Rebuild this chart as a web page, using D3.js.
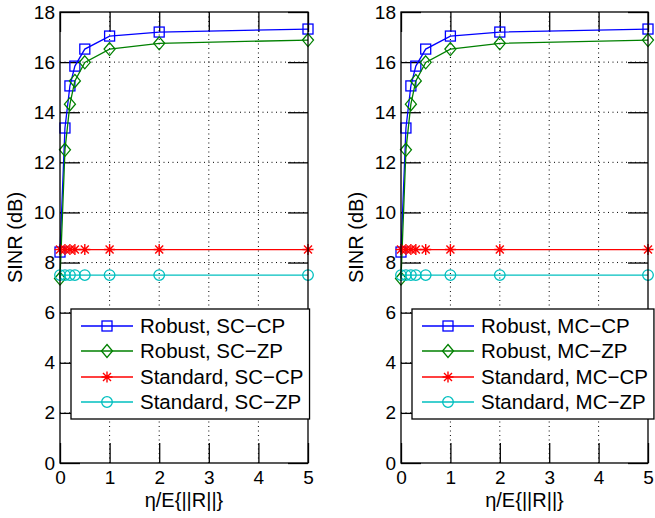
<!DOCTYPE html>
<html>
<head>
<meta charset="utf-8">
<script src="https://cdn.jsdelivr.net/npm/d3@7"></script>
<style>
  body { margin: 0; background: #fff; }
  svg { display: block; font-family: "Liberation Sans", Arial, sans-serif; }
</style>
</head>
<body>
<script>
// x values (eta / E{||R||})
const xVals = [0, 0.1, 0.2, 0.3, 0.5, 1, 2, 5];

// SINR (dB) per curve, same for both panels
const robustCP = [8.42, 13.37, 15.05, 15.84, 16.52, 17.04, 17.2, 17.32];
const robustZP = [7.36, 12.5, 14.32, 15.25, 15.99, 16.52, 16.75, 16.88];
const standardCP = [8.52, 8.52, 8.52, 8.52, 8.52, 8.52, 8.52, 8.52];
const standardZP = [7.5, 7.5, 7.5, 7.5, 7.5, 7.5, 7.5, 7.5];

// tick labels
const xTicks = [0, 1, 2, 3, 4, 5];
const yTicks = [0, 2, 4, 6, 8, 10, 12, 14, 16, 18];

// legend labels for each panel
const legendLeft = ["Robust, SC\u2212CP", "Robust, SC\u2212ZP", "Standard, SC\u2212CP", "Standard, SC\u2212ZP"];
const legendRight = ["Robust, MC\u2212CP", "Robust, MC\u2212ZP", "Standard, MC\u2212CP", "Standard, MC\u2212ZP"];

const W = 655, H = 518;
const TOP = 12, BOTTOM = 463;
const TICK = 20;

const seriesStyle = [
  { color: "#0000ff", marker: "square" },
  { color: "#008000", marker: "diamond" },
  { color: "#ff0000", marker: "star" },
  { color: "#00bfbf", marker: "circle" }
];

const svg = d3.select("body").append("svg")
  .attr("width", W).attr("height", H);

// draws one marker shape centered at 0,0
function drawMarker(g, type, color) {
  if (type === "square") {
    g.append("rect").attr("x", -5).attr("y", -5).attr("width", 10).attr("height", 10)
      .attr("fill", "none").attr("stroke", color).attr("stroke-width", 1.3);
  } else if (type === "diamond") {
    g.append("path").attr("d", "M0,-6.5L5.5,0L0,6.5L-5.5,0Z")
      .attr("fill", "none").attr("stroke", color).attr("stroke-width", 1.3);
  } else if (type === "star") {
    g.append("path").attr("d", "M0,-5.5V5.5M-5.5,0H5.5M-4,-4L4,4M-4,4L4,-4")
      .attr("fill", "none").attr("stroke", color).attr("stroke-width", 1.4);
  } else {
    g.append("circle").attr("r", 5.3)
      .attr("fill", "none").attr("stroke", color).attr("stroke-width", 1.3);
  }
}

function drawPanel(left, right, labels, ylabelX) {
  const x = d3.scaleLinear().domain([0, 5]).range([left, right]);
  const y = d3.scaleLinear().domain([0, 18]).range([BOTTOM, TOP]);
  const g = svg.append("g");

  // dotted grid
  g.selectAll("line.gx").data(xTicks.slice(1, -1)).enter().append("line")
    .attr("x1", d => x(d)).attr("x2", d => x(d)).attr("y1", TOP).attr("y2", BOTTOM)
    .attr("stroke", "#000").attr("stroke-width", 1).attr("stroke-dasharray", "1,3.5");
  g.selectAll("line.gy").data(yTicks.slice(1, -1)).enter().append("line")
    .attr("y1", d => y(d)).attr("y2", d => y(d)).attr("x1", left).attr("x2", right)
    .attr("stroke", "#000").attr("stroke-width", 1).attr("stroke-dasharray", "1,3.5");

  // axes with inward ticks
  const axB = g.append("g").attr("transform", `translate(0,${BOTTOM})`)
    .call(d3.axisBottom(x).tickValues(xTicks).tickFormat(d3.format("d")).tickSize(-TICK).tickPadding(8));
  const axT = g.append("g").attr("transform", `translate(0,${TOP})`)
    .call(d3.axisTop(x).tickValues(xTicks).tickSize(-TICK).tickFormat(""));
  const axL = g.append("g").attr("transform", `translate(${left},0)`)
    .call(d3.axisLeft(y).tickValues(yTicks).tickFormat(d3.format("d")).tickSize(-TICK).tickPadding(5));
  const axR = g.append("g").attr("transform", `translate(${right},0)`)
    .call(d3.axisRight(y).tickValues(yTicks).tickSize(-TICK).tickFormat(""));
  [axB, axT, axL, axR].forEach(a => {
    a.select(".domain").remove();
    a.selectAll("line").attr("stroke", "#000").attr("stroke-width", 1.3);
    a.selectAll("text").attr("fill", "#000").style("font-size", "19px")
      .style("font-family", "'Liberation Sans', Arial, sans-serif");
  });

  // series
  const allSeries = [robustCP, robustZP, standardCP, standardZP];
  const line = d3.line().x(d => x(d[0])).y(d => y(d[1]));
  allSeries.forEach((vals, i) => {
    const st = seriesStyle[i];
    const pts = xVals.map((v, j) => [v, vals[j]]);
    g.append("path").attr("d", line(pts)).attr("fill", "none")
      .attr("stroke", st.color).attr("stroke-width", 1.3);
    pts.forEach(p => {
      const m = g.append("g").attr("transform", `translate(${x(p[0])},${y(p[1])})`);
      drawMarker(m, st.marker, st.color);
    });
  });

  // frame
  g.append("rect").attr("x", left).attr("y", TOP).attr("width", right - left).attr("height", BOTTOM - TOP)
    .attr("fill", "none").attr("stroke", "#000").attr("stroke-width", 1.3);

  // legend
  const lg = g.append("g");
  const boxL = left + 11, boxT = 309, boxB = 419;
  const rowY = [326, 351, 377, 402];
  const box = lg.append("rect").attr("x", boxL).attr("y", boxT).attr("height", boxB - boxT)
    .attr("fill", "#fff").attr("stroke", "#000").attr("stroke-width", 1.3);
  let maxEnd = 0;
  labels.forEach((lab, i) => {
    const st = seriesStyle[i];
    lg.append("line").attr("x1", boxL + 10).attr("x2", boxL + 62).attr("y1", rowY[i]).attr("y2", rowY[i])
      .attr("stroke", st.color).attr("stroke-width", 1.3);
    const m = lg.append("g").attr("transform", `translate(${boxL + 36},${rowY[i]})`);
    drawMarker(m, st.marker, st.color);
    const t = lg.append("text").attr("x", boxL + 69).attr("y", rowY[i]).attr("dy", "0.35em")
      .style("font-size", "20.5px").attr("fill", "#000").text(lab);
    maxEnd = Math.max(maxEnd, boxL + 69 + t.node().getComputedTextLength());
  });
  box.attr("width", maxEnd + 6 - boxL);

  // axis labels
  g.append("text").attr("transform", `translate(${ylabelX},${(TOP + BOTTOM) / 2}) rotate(-90)`)
    .attr("text-anchor", "middle").attr("dy", "0.35em").style("font-size", "20px").text("SINR (dB)");
  g.append("text").attr("x", (left + right) / 2).attr("y", 500).attr("text-anchor", "middle")
    .attr("dy", "0.35em").style("font-size", "20px").text("\u03b7/E{||R||}");
}

drawPanel(60, 308, legendLeft, 15);
drawPanel(401, 648, legendRight, 356);
</script>
</body>
</html>
